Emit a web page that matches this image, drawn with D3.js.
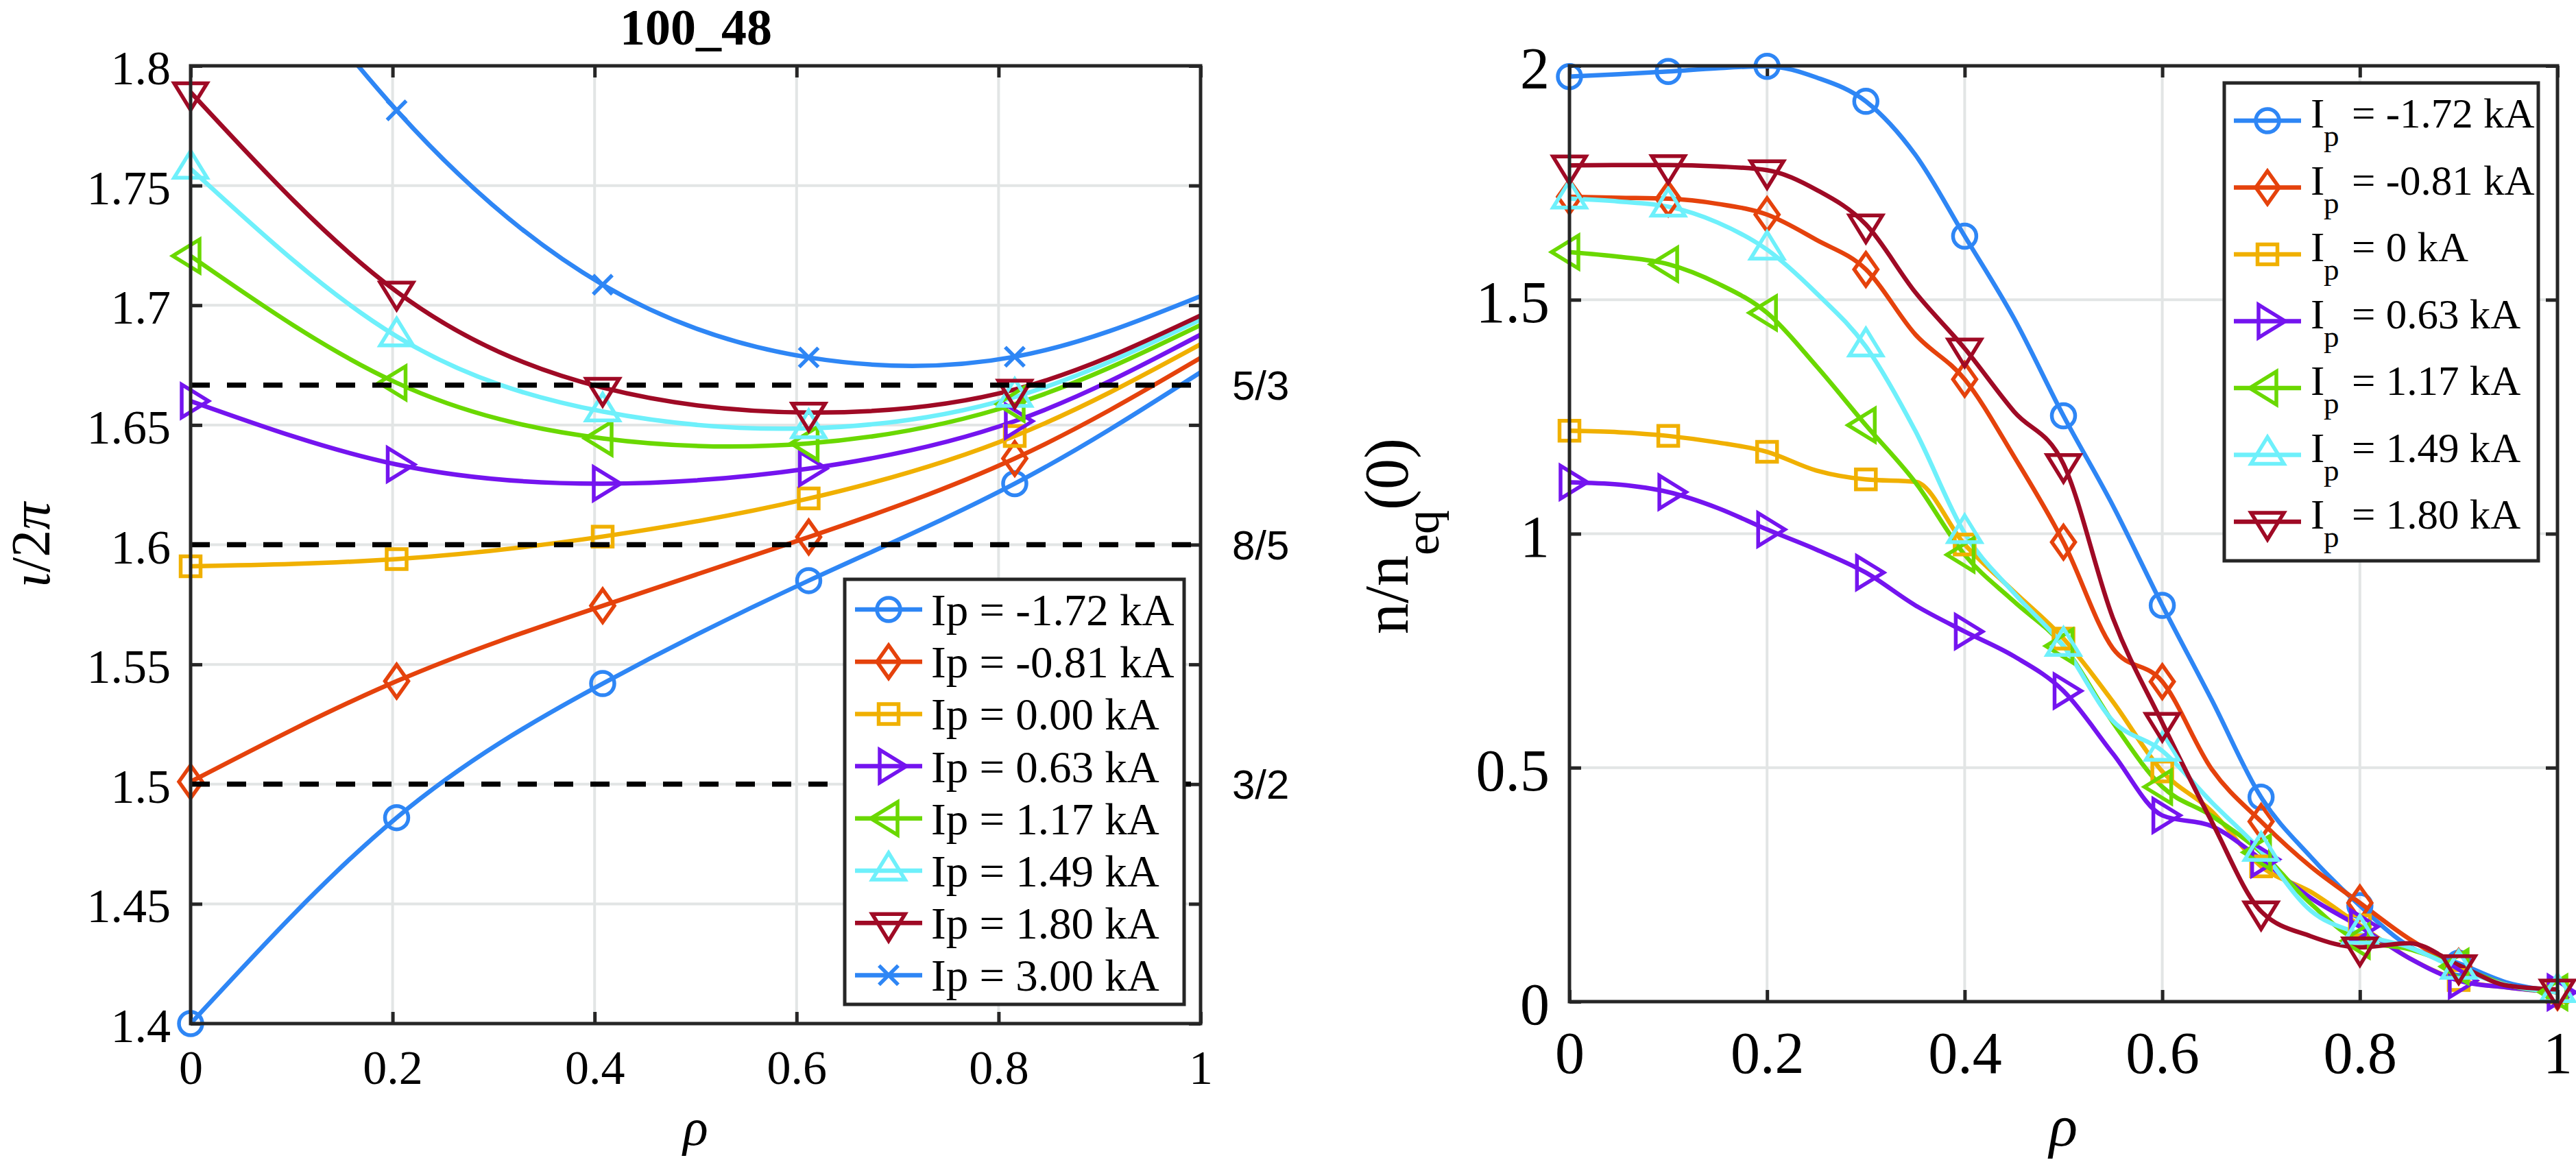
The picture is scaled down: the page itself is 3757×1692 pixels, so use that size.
<!DOCTYPE html>
<html>
<head>
<meta charset="utf-8">
<script src="https://cdn.jsdelivr.net/npm/d3@7"></script>
<style>
  body { margin: 0; background: #fff; }
  svg { display: block; }
</style>
</head>
<body>
<svg id="fig" width="3757" height="1692"></svg>
<script>
// ---- left panel: iota/2pi vs rho ----
const rhoL = [0, 0.204, 0.408, 0.612, 0.816, 1.0];
const iotaM172 = [1.400, 1.486, 1.542, 1.585, 1.6255, 1.672];
const iotaM081 = [1.501, 1.543, 1.5745, 1.6032, 1.636, 1.678];
const iota000 = [1.591, 1.594, 1.6034, 1.6193, 1.6454, 1.6837];
const iota063 = [1.660, 1.6335, 1.6255, 1.6318, 1.6516, 1.6877];
const iota117 = [1.7206, 1.6676, 1.6444, 1.6423, 1.6587, 1.6917];
const iota149 = [1.757, 1.687, 1.6556, 1.6486, 1.6617, 1.694];
const iota180 = [1.789, 1.7057, 1.6656, 1.6552, 1.6648, 1.6957];
const iota300 = [1.892, 1.7814, 1.7086, 1.6782, 1.6785, 1.7038];
const labelsL = ["Ip = -1.72 kA", "Ip = -0.81 kA", "Ip = 0.00 kA", "Ip = 0.63 kA",
                 "Ip = 1.17 kA", "Ip = 1.49 kA", "Ip = 1.80 kA", "Ip = 3.00 kA"];
const ratioVals = [5 / 3, 8 / 5, 3 / 2];
const ratioLabels = ["5/3", "8/5", "3/2"];
const yTicksL = [1.4, 1.45, 1.5, 1.55, 1.6, 1.65, 1.7, 1.75, 1.8];

// ---- right panel: n/n_eq(0) vs rho ----
const rhoR = [0, 0.05, 0.1, 0.15, 0.2, 0.25, 0.3, 0.35, 0.4, 0.45, 0.5,
              0.55, 0.6, 0.65, 0.7, 0.75, 0.8, 0.85, 0.9, 0.95, 1.0];
const densM172 = [1.977, 1.982, 1.988, 1.995, 1.999, 1.975, 1.924, 1.81, 1.636, 1.46, 1.252,
                  1.06, 0.847, 0.645, 0.437, 0.31, 0.205, 0.118, 0.082, 0.04, 0.022];
const densM081 = [1.720, 1.718, 1.716, 1.705, 1.682, 1.628, 1.565, 1.426, 1.330, 1.165, 0.982,
                  0.755, 0.684, 0.497, 0.385, 0.289, 0.211, 0.134, 0.075, 0.035, 0.02];
const dens000 = [1.220, 1.217, 1.209, 1.195, 1.175, 1.135, 1.116, 1.111, 0.977, 0.876, 0.776,
                 0.641, 0.492, 0.407, 0.289, 0.235, 0.163, 0.093, 0.046, 0.03, 0.02];
const dens063 = [1.110, 1.105, 1.089, 1.055, 1.009, 0.966, 0.917, 0.847, 0.791, 0.738, 0.664,
                 0.53, 0.398, 0.375, 0.304, 0.222, 0.160, 0.093, 0.045, 0.03, 0.02];
const dens117 = [1.602, 1.592, 1.576, 1.535, 1.472, 1.358, 1.232, 1.11, 0.955, 0.855, 0.760,
                 0.597, 0.459, 0.397, 0.319, 0.21, 0.130, 0.112, 0.075, 0.035, 0.02];
const dens149 = [1.716, 1.710, 1.699, 1.665, 1.607, 1.514, 1.400, 1.22, 1.001, 0.873, 0.760,
                 0.600, 0.536, 0.426, 0.322, 0.195, 0.145, 0.116, 0.07, 0.035, 0.02];
const dens180 = [1.787, 1.788, 1.788, 1.785, 1.777, 1.735, 1.661, 1.516, 1.396, 1.261, 1.149,
                 0.82, 0.596, 0.385, 0.193, 0.14, 0.116, 0.125, 0.078, 0.034, 0.026];
const labelsR = ["= -1.72 kA", "= -0.81 kA", "= 0 kA", "= 0.63 kA",
                 "= 1.17 kA", "= 1.49 kA", "= 1.80 kA"];
const yTicksR = [0, 0.5, 1, 1.5, 2];

const xTicks = [0, 0.2, 0.4, 0.6, 0.8, 1];

// series styles
const colors = ["#2e86f5", "#e5420c", "#f0b000", "#7414ef", "#6ad800", "#6ef0fb", "#9f0a25", "#2e86f5"];
const markers = ["o", "d", "s", ">", "<", "^", "v", "x"];

const SERIF = "'Liberation Serif','Times New Roman',serif";
const SANS = "'Liberation Sans',Arial,sans-serif";
const AX = "#262626";
const GRID = "#e2e5e5";
const LW = 6.5;
const MW = 5.5;

const svg = d3.select("#fig");

function markerPath(shape) {
  const p = d3.path();
  if (shape === "o") { p.moveTo(17, 0); p.arc(0, 0, 17, 0, 2 * Math.PI); }
  else if (shape === "d") { p.moveTo(0, -24); p.lineTo(17, 0); p.lineTo(0, 24); p.lineTo(-17, 0); p.closePath(); }
  else if (shape === "s") { p.rect(-14.5, -14.5, 29, 29); }
  else if (shape === ">") { p.moveTo(26, 0); p.lineTo(-13, -24); p.lineTo(-13, 24); p.closePath(); }
  else if (shape === "<") { p.moveTo(-26, 0); p.lineTo(13, -24); p.lineTo(13, 24); p.closePath(); }
  else if (shape === "^") { p.moveTo(0, -26); p.lineTo(24, 13); p.lineTo(-24, 13); p.closePath(); }
  else if (shape === "v") { p.moveTo(0, 26); p.lineTo(24, -13); p.lineTo(-24, -13); p.closePath(); }
  else if (shape === "x") { p.moveTo(-14, -14); p.lineTo(14, 14); p.moveTo(14, -14); p.lineTo(-14, 14); }
  return p.toString();
}

// grid, ticks on all four sides
function frame(id, x, y, yTicks, o) {
  const g = svg.append("g");
  const [x0, x1] = x.range();
  const [y0, y1] = y.range();

  g.selectAll(".gx").data(xTicks).join("line")
    .attr("x1", d => x(d)).attr("x2", d => x(d)).attr("y1", y0).attr("y2", y1)
    .attr("stroke", GRID).attr("stroke-width", 4);
  g.selectAll(".gy").data(yTicks).join("line")
    .attr("x1", x0).attr("x2", x1).attr("y1", d => y(d)).attr("y2", d => y(d))
    .attr("stroke", GRID).attr("stroke-width", 4);

  svg.append("clipPath").attr("id", id)
    .append("rect").attr("x", x0).attr("y", y1).attr("width", x1 - x0).attr("height", y0 - y1);

  const bottom = d3.axisBottom(x).tickValues(xTicks).tickSize(-17).tickSizeOuter(0)
    .tickPadding(o.xPad).tickFormat(d => String(d));
  const left = d3.axisLeft(y).tickValues(yTicks).tickSize(-17).tickSizeOuter(0)
    .tickPadding(29).tickFormat(d => String(d));
  const top = d3.axisTop(x).tickValues(xTicks).tickSize(-17).tickSizeOuter(0).tickFormat("");
  const right = d3.axisRight(y).tickValues(yTicks).tickSize(-17).tickSizeOuter(0).tickFormat("");

  const axes = svg.append("g").attr("class", "axes-" + id);
  axes.append("g").attr("transform", `translate(0,${y0})`).call(bottom);
  axes.append("g").attr("transform", `translate(${x0},0)`).call(left);
  axes.append("g").attr("transform", `translate(0,${y1})`).call(top);
  axes.append("g").attr("transform", `translate(${x1},0)`).call(right);
  axes.selectAll(".domain").remove();
  axes.selectAll(".tick line").attr("stroke", AX).attr("stroke-width", 5);
  axes.selectAll(".tick text").attr("fill", "#000")
    .style("font-family", SERIF).style("font-size", o.fs + "px");
  axes.selectAll(".tick text").filter(function () { return this.getAttribute("dy") === "0.32em"; })
    .attr("dy", "0.38em");

  return axes;
}

function boxOn(x, y) {
  const [x0, x1] = x.range();
  const [y0, y1] = y.range();
  svg.append("rect").attr("x", x0).attr("y", y1).attr("width", x1 - x0).attr("height", y0 - y1)
    .attr("fill", "none").attr("stroke", AX).attr("stroke-width", 5);
}

function drawSeries(series, x, y, clipId, curve, every, yMax) {
  const line = d3.line().x(d => x(d[0])).y(d => y(d[1])).curve(curve);
  const g = svg.append("g");
  g.append("g").attr("clip-path", `url(#${clipId})`)
    .selectAll("path").data(series).join("path")
    .attr("d", s => line(s.pts))
    .attr("fill", "none").attr("stroke", s => s.color).attr("stroke-width", LW)
    .attr("stroke-linejoin", "round");
  series.forEach(s => {
    const pts = s.pts.filter((p, i) => i % every === 0 && i < s.nMark && p[1] <= yMax);
    g.append("g").selectAll("path").data(pts).join("path")
      .attr("transform", p => `translate(${x(p[0])},${y(p[1])})`)
      .attr("d", markerPath(s.marker))
      .attr("fill", "none").attr("stroke", s.color).attr("stroke-width", MW);
  });
}

// ================= left panel =================
const xL = d3.scaleLinear().domain([0, 1]).range([278, 1751]);
const yL = d3.scaleLinear().domain([1.4, 1.8]).range([1493, 96]);
frame("clipL", xL, yL, yTicksL, { xPad: 38, fs: 70 });

const iotaSets = [iotaM172, iotaM081, iota000, iota063, iota117, iota149, iota180, iota300];
const seriesL = iotaSets.map((vals, i) => ({
  label: labelsL[i], color: colors[i], marker: markers[i],
  pts: rhoL.map((r, j) => [r, vals[j]]), nMark: 5
}));
drawSeries(seriesL, xL, yL, "clipL", d3.curveNatural, 1, 1.8);

// rational surfaces
svg.append("g").selectAll("line").data(ratioVals).join("line")
  .attr("x1", xL(0)).attr("x2", xL(1)).attr("y1", d => yL(d)).attr("y2", d => yL(d))
  .attr("stroke", "#000").attr("stroke-width", 7.5).attr("stroke-dasharray", "28 25");
svg.append("g").selectAll("text").data(ratioVals).join("text")
  .attr("x", 1797).attr("y", d => yL(d) + 21)
  .style("font-family", SANS).style("font-size", "60px").text((d, i) => ratioLabels[i]);

boxOn(xL, yL);

// legend
const legL = svg.append("g");
legL.append("rect").attr("x", 1232).attr("y", 845).attr("width", 495).attr("height", 620)
  .attr("fill", "#fff").attr("stroke", AX).attr("stroke-width", 5);
seriesL.forEach((s, i) => {
  const cy = 889 + i * 76.2;
  legL.append("line").attr("x1", 1247).attr("x2", 1345).attr("y1", cy).attr("y2", cy)
    .attr("stroke", s.color).attr("stroke-width", LW);
  legL.append("path").attr("transform", `translate(1296,${cy})`).attr("d", markerPath(s.marker))
    .attr("fill", "none").attr("stroke", s.color).attr("stroke-width", MW);
  legL.append("text").attr("x", 1358).attr("y", cy + 23)
    .style("font-family", SERIF).style("font-size", "65px").text(s.label);
});

svg.append("text").attr("x", 1015).attr("y", 65).attr("text-anchor", "middle")
  .style("font-family", SERIF).style("font-size", "74px").style("font-weight", "bold").text("100_48");

svg.append("text").attr("x", xL(0.5)).attr("y", 1670).attr("text-anchor", "middle")
  .style("font-family", SERIF).style("font-size", "76px").style("font-style", "italic").text("ρ");

const yLabL = svg.append("text").attr("transform", "translate(72,795) rotate(-90)")
  .attr("text-anchor", "middle").style("font-family", SERIF).style("font-size", "80px");
yLabL.append("tspan").style("font-style", "italic").text("ι");
yLabL.append("tspan").text("/2");
yLabL.append("tspan").style("font-style", "italic").text("π");

// ================= right panel =================
const xR = d3.scaleLinear().domain([0, 1]).range([2289, 3730]);
const yR = d3.scaleLinear().domain([0, 2]).range([1461, 96]);
frame("clipR", xR, yR, yTicksR, { xPad: 43, fs: 86 });

const densSets = [densM172, densM081, dens000, dens063, dens117, dens149, dens180];
const seriesR = densSets.map((vals, i) => ({
  label: labelsR[i], color: colors[i], marker: markers[i],
  pts: rhoR.map((r, j) => [r, vals[j]]), nMark: rhoR.length
}));
drawSeries(seriesR, xR, yR, "clipR", d3.curveMonotoneX, 2, 2.05);

boxOn(xR, yR);

const legR = svg.append("g");
legR.append("rect").attr("x", 3244).attr("y", 121).attr("width", 458).attr("height", 697)
  .attr("fill", "#fff").attr("stroke", AX).attr("stroke-width", 5);
seriesR.forEach((s, i) => {
  const cy = 176 + i * 97.5;
  legR.append("line").attr("x1", 3258).attr("x2", 3356).attr("y1", cy).attr("y2", cy)
    .attr("stroke", s.color).attr("stroke-width", LW);
  legR.append("path").attr("transform", `translate(3307,${cy})`).attr("d", markerPath(s.marker))
    .attr("fill", "none").attr("stroke", s.color).attr("stroke-width", MW);
  const t = legR.append("text").style("font-family", SERIF).style("font-size", "61px");
  t.append("tspan").attr("x", 3370).attr("y", cy + 10).text("I");
  t.append("tspan").attr("x", 3389).attr("y", cy + 37).style("font-size", "45px").text("p");
  t.append("tspan").attr("x", 3430).attr("y", cy + 10).text(s.label);
});

svg.append("text").attr("x", xR(0.5)).attr("y", 1671).attr("text-anchor", "middle")
  .style("font-family", SERIF).style("font-size", "86px").style("font-style", "italic").text("ρ");

const yLabR = svg.append("text").attr("transform", "translate(2053,782) rotate(-90)")
  .attr("text-anchor", "middle").style("font-family", SERIF).style("font-size", "90px");
yLabR.append("tspan").text("n/n");
yLabR.append("tspan").attr("dy", 45).style("font-size", "70px").text("eq");
yLabR.append("tspan").attr("dy", -45).text("(0)");
</script>
</body>
</html>
